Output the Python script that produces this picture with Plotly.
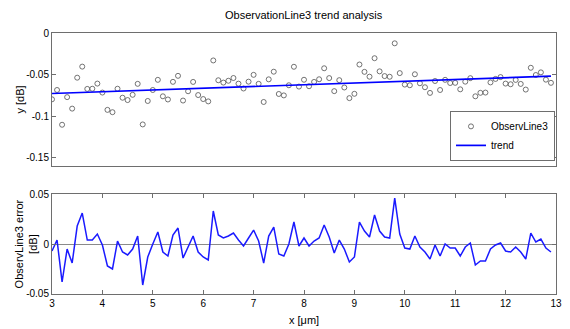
import plotly.graph_objects as go
from plotly.subplots import make_subplots

x_vals = [round(3 + 0.1 * i, 1) for i in range(100)]

observ = [-0.0797, -0.0685, -0.1103, -0.0771, -0.0909, -0.0537, -0.0404, -0.0672, -0.0670, -0.0608,
          -0.0716, -0.0924, -0.0952, -0.0670, -0.0778, -0.0806, -0.0743, -0.0611, -0.1099, -0.0817,
          -0.0685, -0.0563, -0.0761, -0.0799, -0.0587, -0.0515, -0.0812, -0.0700, -0.0588, -0.0746,
          -0.0794, -0.0822, -0.0330, -0.0568, -0.0596, -0.0574, -0.0541, -0.0609, -0.0667, -0.0585,
          -0.0503, -0.0611, -0.0829, -0.0557, -0.0465, -0.0733, -0.0750, -0.0628, -0.0406, -0.0644,
          -0.0562, -0.0640, -0.0588, -0.0556, -0.0424, -0.0542, -0.0699, -0.0567, -0.0655, -0.0783,
          -0.0731, -0.0379, -0.0467, -0.0525, -0.0303, -0.0461, -0.0518, -0.0526, -0.0124, -0.0482,
          -0.0620, -0.0628, -0.0496, -0.0604, -0.0652, -0.0720, -0.0577, -0.0685, -0.0563, -0.0601,
          -0.0599, -0.0677, -0.0585, -0.0543, -0.0761, -0.0719, -0.0716, -0.0594, -0.0552, -0.0530,
          -0.0608, -0.0616, -0.0564, -0.0612, -0.0680, -0.0418, -0.0505, -0.0473, -0.0561, -0.0599]

errors = [-0.007, 0.004, -0.038, -0.005, -0.019, 0.018, 0.031, 0.004, 0.004, 0.010,
          -0.001, -0.022, -0.025, 0.003, -0.008, -0.011, -0.005, 0.008, -0.041, -0.013,
          0.000, 0.012, -0.008, -0.012, 0.009, 0.016, -0.014, -0.003, 0.008, -0.008,
          -0.013, -0.016, 0.033, 0.009, 0.006, 0.008, 0.011, 0.004, -0.002, 0.006,
          0.014, 0.003, -0.019, 0.008, 0.017, -0.010, -0.012, 0.000, 0.022, -0.002,
          0.006, -0.002, 0.003, 0.006, 0.019, 0.007, -0.009, 0.004, -0.005, -0.018,
          -0.013, 0.022, 0.013, 0.007, 0.029, 0.013, 0.007, 0.006, 0.046, 0.010,
          -0.004, -0.005, 0.008, -0.003, -0.008, -0.015, -0.001, -0.012, 0.000, -0.004,
          -0.004, -0.012, -0.003, 0.001, -0.021, -0.017, -0.017, -0.005, -0.001, 0.001,
          -0.007, -0.008, -0.003, -0.008, -0.015, 0.011, 0.002, 0.005, -0.004, -0.008]

trend_x = [3.0, 12.9]
trend_y = [-0.0727, -0.0519]

top_yticks = [0, -0.05, -0.1, -0.15]
top_ytick_text = ["0", "-0.05", "-0.1", "-0.15"]
bot_yticks = [0.05, 0, -0.05]
bot_ytick_text = ["0.05", "0", "-0.05"]
xticks = [3, 4, 5, 6, 7, 8, 9, 10, 11, 12, 13]

FONT = "Liberation Sans, Arial, sans-serif"
AX = "#6e6e6e"

fig = make_subplots(rows=2, cols=1, shared_xaxes=False, vertical_spacing=0.0)

fig.add_trace(go.Scatter(x=x_vals, y=observ, mode="markers", name="ObservLine3",
                         marker=dict(symbol="circle-open", size=5, color="#505050",
                                     line=dict(width=0.8, color="#505050"))), row=1, col=1)
fig.add_trace(go.Scatter(x=trend_x, y=trend_y, mode="lines", name="trend",
                         line=dict(color="#0000ff", width=1.7)), row=1, col=1)
fig.add_trace(go.Scatter(x=x_vals, y=errors, mode="lines", showlegend=False,
                         line=dict(color="#1a1aff", width=1.5)), row=2, col=1)

axis_common = dict(showline=True, linecolor=AX, linewidth=1, mirror="ticks",
                   ticks="inside", ticklen=4, tickcolor=AX, showgrid=False,
                   tickfont=dict(family=FONT, size=10, color="#000"))

fig.update_xaxes(range=[3, 13], tickvals=xticks, showticklabels=False, zeroline=False,
                 domain=[0, 1], **{k: v for k, v in axis_common.items() if k not in ("ticks",)},
                 ticks="", row=1, col=1)
fig.update_yaxes(range=[-0.16, 0], tickvals=top_yticks, ticktext=top_ytick_text,
                 zeroline=False, domain=[0.49, 1], **axis_common, row=1, col=1)
fig.update_xaxes(range=[3, 13], tickvals=xticks, zeroline=False, domain=[0, 1],
                 **axis_common, row=2, col=1)
fig.update_yaxes(range=[-0.05, 0.05], tickvals=bot_yticks, ticktext=bot_ytick_text,
                 zeroline=True, zerolinecolor="#8a8a8a", zerolinewidth=1,
                 domain=[0, 0.383], **axis_common, row=2, col=1)

fig.update_layout(
    width=570, height=329,
    margin=dict(l=52, r=8, t=33, b=35),
    paper_bgcolor="white", plot_bgcolor="white",
    font=dict(family=FONT, size=10, color="#000"),
    showlegend=True,
    legend=dict(x=0.998, xanchor="right", y=0.51, yanchor="bottom",
                bgcolor="white", bordercolor=AX, borderwidth=1,
                font=dict(family=FONT, size=10), tracegroupgap=0,
                itemwidth=30),
    annotations=[
        dict(text="ObservationLine3 trend analysis", xref="paper", yref="paper",
             x=0.5, y=1, yshift=18, showarrow=False, xanchor="center", yanchor="middle",
             font=dict(family=FONT, size=11)),
        dict(text="y [dB]", xref="paper", yref="paper", x=0, xshift=-32, y=0.745,
             xanchor="center", yanchor="middle",
             textangle=-90, showarrow=False, font=dict(family=FONT, size=11)),
        dict(text="ObservLine3 error<br>[dB]", xref="paper", yref="paper", x=0, xshift=-26,
             xanchor="center", yanchor="middle",
             y=0.19, textangle=-90, showarrow=False, font=dict(family=FONT, size=11)),
        dict(text="x [μm]", xref="paper", yref="paper", x=0.5, y=0, yshift=-26,
             showarrow=False, yanchor="middle", font=dict(family=FONT, size=11)),
    ],
)

fig.write_html("out.html")
